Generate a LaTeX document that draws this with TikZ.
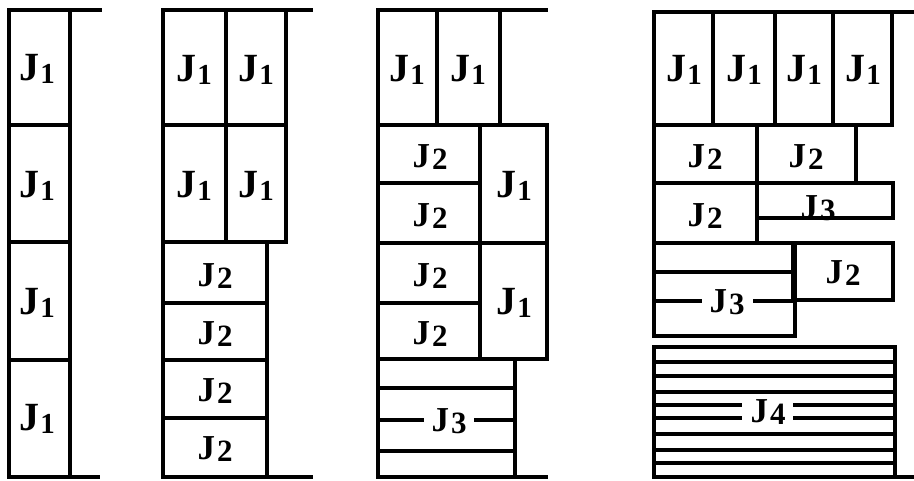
\documentclass[tikz,border=0pt]{standalone}
\usepackage{fontspec}
\setmainfont{Liberation Serif}

% job labels: a large J with a big, slightly lowered index
\newcommand{\jobA}[1]{{\fontsize{40}{40}\selectfont\bfseries J\kern1pt\raisebox{-3pt}{\fontsize{29}{29}\selectfont #1}}}
\newcommand{\jobB}[1]{{\fontsize{35}{35}\selectfont\bfseries J\kern2pt\raisebox{-2pt}{\fontsize{31}{31}\selectfont #1}}}

\tikzset{
  wall/.style={line width=4pt},
  bar/.style={line width=4pt},
  lbl/.style={inner sep=0pt, anchor=center}
}

\begin{document}
\begin{tikzpicture}[x=1pt,y=-1pt]
\useasboundingbox (0,0) rectangle (914,480);
\fill[white] (0,0) rectangle (914,480);

% ---------- first packing: four J1 stacked ----------
\draw[wall] (9,10) -- (102,10);
\draw[wall] (9,477) -- (100,477);
\draw[bar] (9,10) rectangle (70,125);
\draw[bar] (9,125) rectangle (70,242);
\draw[bar] (9,242) rectangle (70,360);
\draw[bar] (9,360) rectangle (70,477);
\node[lbl] (a1) at (37,69)  {\jobA{1}};
\node[lbl] (a2) at (37,186) {\jobA{1}};
\node[lbl] (a3) at (37,303) {\jobA{1}};
\node[lbl] (a4) at (37,419) {\jobA{1}};

% ---------- second packing: J1 pairs and four J2 ----------
\draw[wall] (163,10) -- (313,10);
\draw[wall] (163,477) -- (313,477);
\draw[bar] (163,10) rectangle (226,125);
\draw[bar] (226,10) rectangle (286,125);
\draw[bar] (163,125) rectangle (226,242);
\draw[bar] (226,125) rectangle (286,242);
\draw[bar] (163,242) rectangle (267,303);
\draw[bar] (163,303) rectangle (267,360);
\draw[bar] (163,360) rectangle (267,418);
\draw[bar] (163,418) rectangle (267,477);
\node[lbl] (b1) at (194,70)  {\jobA{1}};
\node[lbl] (b2) at (256,70)  {\jobA{1}};
\node[lbl] (b3) at (194,186) {\jobA{1}};
\node[lbl] (b4) at (256,186) {\jobA{1}};
\node[lbl] (b5) at (215,276) {\jobB{2}};
\node[lbl] (b6) at (215,334) {\jobB{2}};
\node[lbl] (b7) at (215,391) {\jobB{2}};
\node[lbl] (b8) at (215,449) {\jobB{2}};

% ---------- third packing: J1, J2 and a J3 block ----------
\draw[wall] (378,10) -- (548,10);
\draw[wall] (378,477) -- (548,477);
\draw[bar] (378,10) rectangle (437,125);
\draw[bar] (437,10) rectangle (500,125);
\draw[bar] (378,125) rectangle (480,183);
\draw[bar] (378,183) rectangle (480,243);
\draw[bar] (378,243) rectangle (480,303);
\draw[bar] (378,303) rectangle (480,359);
\draw[bar] (480,125) rectangle (547,243);
\draw[bar] (480,243) rectangle (547,359);
\draw[bar] (378,359) rectangle (515,477);
\draw[bar] (378,388) -- (515,388);
\draw[bar] (378,451) -- (515,451);
\node[lbl] (c1) at (407,70)  {\jobA{1}};
\node[lbl] (c2) at (468,70)  {\jobA{1}};
\node[lbl] (c3) at (430,157) {\jobB{2}};
\node[lbl] (c4) at (430,216) {\jobB{2}};
\node[lbl] (c5) at (430,276) {\jobB{2}};
\node[lbl] (c6) at (430,334) {\jobB{2}};
\node[lbl] (c7) at (514,186) {\jobA{1}};
\node[lbl] (c8) at (514,303) {\jobA{1}};
\node[lbl] (c9) at (449,421) {\jobB{3}};
\draw[bar] (378,420) -- (424,420);
\draw[bar] (474,420) -- (515,420);

% ---------- fourth packing: J1, J2, J3 and a J4 block ----------
\draw[wall] (654,12) -- (914,12);
\draw[bar] (654,12) rectangle (713,125);
\draw[bar] (713,12) rectangle (775,125);
\draw[bar] (775,12) rectangle (833,125);
\draw[bar] (833,12) rectangle (892,125);
\draw[bar] (654,125) rectangle (757,183);
\draw[bar] (757,125) rectangle (856,183);
\draw[bar] (654,183) rectangle (757,243);
\node[lbl] (d1) at (684,70)  {\jobA{1}};
\node[lbl] (d2) at (744,70)  {\jobA{1}};
\node[lbl] (d3) at (804,70)  {\jobA{1}};
\node[lbl] (d4) at (863,70)  {\jobA{1}};
\node[lbl] (d5) at (705,157) {\jobB{2}};
\node[lbl] (d6) at (806,157) {\jobB{2}};
\node[lbl] (d7) at (705,216) {\jobB{2}};
\node[lbl] (d8) at (818,208) {\jobB{3}};
\draw[bar] (757,183) rectangle (893,218);
\draw[bar] (793,243) rectangle (893,300);
\node[lbl] (d9) at (843,273) {\jobB{2}};
\draw[bar] (654,243) rectangle (795,336);
\draw[bar] (654,272) -- (795,272);
\node[lbl] (d10) at (727,302) {\jobB{3}};
\draw[bar] (654,301) -- (702,301);
\draw[bar] (753,301) -- (795,301);
% J4 block of thin strips
\draw[bar] (654,347) rectangle (895,477);
\foreach \yy in {362,376,392,434,450,463}
  \draw[bar] (654,\yy) -- (895,\yy);
\node[lbl] (d11) at (768,412) {\jobB{4}};
\draw[bar] (654,405) -- (742,405);
\draw[bar] (793,405) -- (895,405);
\draw[bar] (654,418) -- (742,418);
\draw[bar] (793,418) -- (895,418);
\draw[wall] (654,477) -- (914,477);
\end{tikzpicture}
\end{document}
